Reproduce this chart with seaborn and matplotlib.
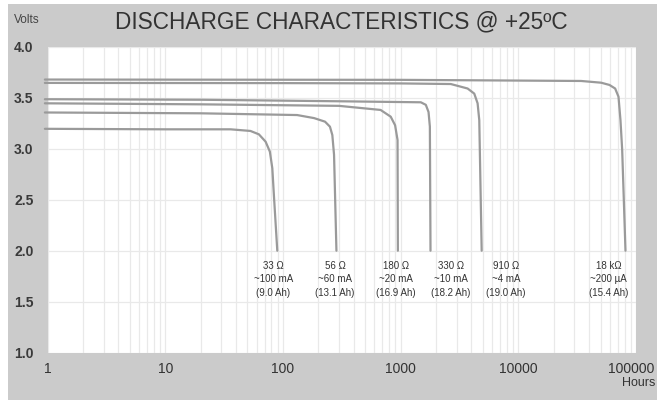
import matplotlib
matplotlib.use("Agg")
import matplotlib.pyplot as plt
import matplotlib.transforms as mtransforms
import seaborn as sns
import pandas as pd
from matplotlib.patches import Rectangle
from matplotlib.ticker import FixedLocator, NullFormatter

# ---- data ----
curve_names = ["33 Ω", "56 Ω", "180 Ω", "330 Ω", "910 Ω", "18 kΩ"]
label_lines = [
    "33 Ω\n~100 mA\n(9.0 Ah)",
    "56 Ω\n~60 mA\n(13.1 Ah)",
    "180 Ω\n~20 mA\n(16.9 Ah)",
    "330 Ω\n~10 mA\n(18.2 Ah)",
    "910 Ω\n~4 mA\n(19.0 Ah)",
    "18 kΩ\n~200 µA\n(15.4 Ah)",
]
label_x = [83, 277, 910, 2670, 7850, 58800]

h_33 = [0.95, 10, 35.9, 53, 62.5, 71.3, 77.5, 81.3, 84, 89.6]
v_33 = [3.195, 3.19, 3.19, 3.174, 3.141, 3.069, 2.971, 2.808, 2.53, 2.0]

h_56 = [0.95, 20, 132, 184, 228, 251, 263, 272, 285]
v_56 = [3.355, 3.347, 3.33, 3.30, 3.265, 3.216, 3.134, 2.94, 2.0]

h_180 = [0.95, 20, 300, 676, 824, 898, 942, 948]
v_180 = [3.445, 3.435, 3.42, 3.38, 3.314, 3.23, 3.085, 2.0]

h_330 = [0.95, 20, 300, 1486, 1638, 1727, 1773, 1795]
v_330 = [3.485, 3.48, 3.465, 3.455, 3.43, 3.36, 3.216, 2.0]

h_910 = [0.95, 100, 1000, 2670, 3710, 4225, 4510, 4660, 4885]
v_910 = [3.645, 3.643, 3.64, 3.634, 3.59, 3.54, 3.445, 3.28, 2.0]

h_18k = [0.95, 1000, 34200, 50600, 59500, 66500, 71000, 73800, 76300, 81400]
v_18k = [3.678, 3.675, 3.664, 3.647, 3.625, 3.59, 3.51, 3.28, 2.99, 2.0]

x_ticks = [1, 10, 100, 1000, 10000, 100000]
x_tick_labels = ["1", "10", "100", "1000", "10000", "100000"]
y_ticks = [1.0, 1.5, 2.0, 2.5, 3.0, 3.5, 4.0]
y_tick_labels = ["1.0", "1.5", "2.0", "2.5", "3.0", "3.5", "4.0"]

hours_all = [h_33, h_56, h_180, h_330, h_910, h_18k]
volts_all = [v_33, v_56, v_180, v_330, v_910, v_18k]
frames = []
for name, h, v in zip(curve_names, hours_all, volts_all):
    frames.append(pd.DataFrame({"hours": h, "volts": v, "curve": name}))
df = pd.concat(frames, ignore_index=True)

# ---- figure ----
sns.set_style("white")
plt.rcParams["font.family"] = ["Liberation Sans", "DejaVu Sans"]

W, H = 657, 400
fig = plt.figure(figsize=(W / 100, H / 100), dpi=100)
fig.patch.set_facecolor("white")
fig.patches.append(Rectangle((8 / W, 0), 1, (H - 4) / H, transform=fig.transFigure,
                             facecolor="#cbcbcb", edgecolor="none", zorder=-10))

ax = fig.add_axes([47.5 / W, 47.3 / H, 588.5 / W, 306 / H])
ax.set_facecolor("white")

sns.lineplot(data=df, x="hours", y="volts", units="curve", estimator=None,
             sort=False, color="#9a9a9a", linewidth=1.6, ax=ax, legend=False,
             clip_on=False, zorder=3)
for ln in ax.get_lines():
    ln.set_solid_joinstyle("round")

ax.set_xscale("log")
ax.set_xlim(1, 100000)
ax.set_ylim(1.0, 4.0)

ax.xaxis.set_major_locator(FixedLocator(x_ticks))
ax.set_xticklabels(x_tick_labels)
minor = [m * 10 ** e for e in range(0, 5) for m in range(2, 10)]
ax.xaxis.set_minor_locator(FixedLocator(minor))
ax.xaxis.set_minor_formatter(NullFormatter())
ax.set_yticks(y_ticks)
ax.set_yticklabels(y_tick_labels)

ax.grid(which="both", axis="x", color="#e9e9e9", linewidth=0.9, zorder=0)
ax.grid(which="major", axis="y", color="#e9e9e9", linewidth=0.9, zorder=0)
ax.set_axisbelow(True)
for s in ax.spines.values():
    s.set_visible(False)
ax.tick_params(which="both", length=0)
ax.tick_params(axis="x", pad=7, labelsize=10, labelcolor="#333333")
ax.tick_params(axis="y", pad=10, labelsize=10, labelcolor="#3a3a3a")
for t in ax.get_yticklabels():
    t.set_fontweight("bold")
# keep the last x label inside the picture edge
last = ax.get_xticklabels()[-1]
last.set_transform(last.get_transform() +
                   mtransforms.ScaledTranslation(-5 / 100, 0, fig.dpi_scale_trans))
ax.set_xlabel("")
ax.set_ylabel("")

for txt, lx in zip(label_lines, label_x):
    ax.text(lx, 1.90, txt, ha="center", va="top", fontsize=7,
            color="#333333", linespacing=1.45, zorder=4)

fig.text(14 / W, 1 - 20 / H, "Volts", ha="left", va="center", fontsize=8.5,
         color="#444444")
fig.text(341 / W, 1 - 22 / H, "DISCHARGE CHARACTERISTICS @ +25ºC", ha="center",
         va="center", fontsize=16.3, color="#333333")
fig.text(655 / W, 1 - 383 / H, "Hours", ha="right", va="center", fontsize=9,
         color="#333333")

fig.savefig("out.png", dpi=100, facecolor=fig.get_facecolor())
